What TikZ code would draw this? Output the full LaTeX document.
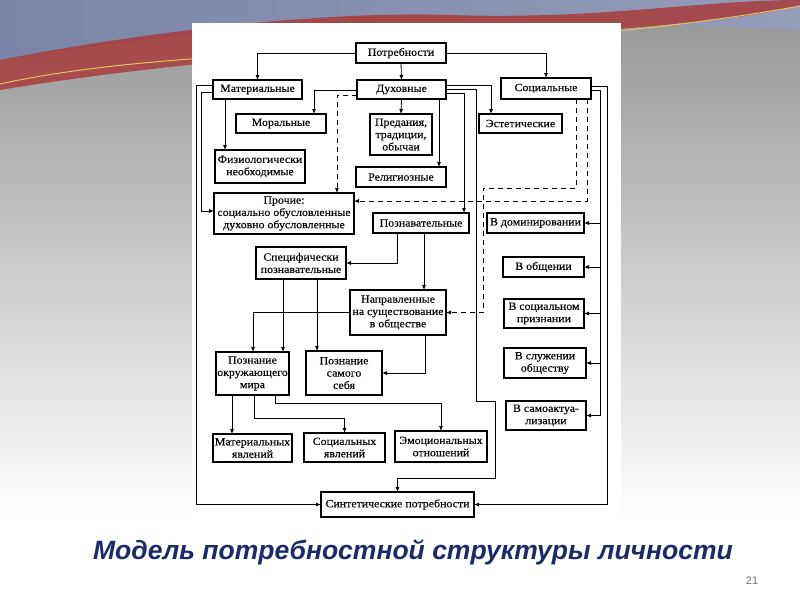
\documentclass[tikz,border=0pt]{standalone}
\usepackage{fontspec}
\setmainfont{Liberation Serif}[FakeStretch=1.08,FakeBold=0.12]
\newfontfamily\titlefont{Liberation Sans}
\usetikzlibrary{arrows.meta,calc}
\definecolor{navy}{HTML}{1C2A6B}
\definecolor{wred}{HTML}{A83C3C}
\definecolor{wblue}{HTML}{7A84A8}
\definecolor{wgold}{HTML}{E8C060}
\tikzset{
 bx/.style={draw, line width=1.3pt, inner sep=0pt, outer sep=0pt, align=center, font=\fontsize{11}{12.3}\selectfont},
 arr/.style={-{Latex[length=5pt,width=4pt]}, line width=0.8pt},
 darr/.style={arr, dash pattern=on 5pt off 4pt},
 ln/.style={line width=0.8pt}
}
\newcommand\mybox[6]{\node[bx, minimum width={#4pt-#2pt}, minimum height={#5pt-#3pt}] (#1) at ({(#2+#4)/2},{(#3+#5)/2}) {#6};}
\begin{document}
\begin{tikzpicture}[x=1pt,y=-1pt]
\useasboundingbox (0,0) rectangle (800,600);
% background
\shade[top color=black!42, bottom color=white] (0,0) rectangle (800,520);
\fill[white] (0,519.5) rectangle (800,600);
\shade[left color=wblue, right color=wblue!80!white] (0,0) -- (800,0) -- (800,30) .. controls (600,20) and (300,10) .. (0,60) -- cycle;
\fill[wred, opacity=0.85] (0,60) .. controls (100,40) and (300,10) .. (450,15) .. controls (600,20) and (700,0) .. (800,0) -- (800,5) .. controls (700,35) and (300,40) .. (0,90) -- cycle;
\draw[wgold, line width=1pt] (0,84) .. controls (200,40) and (500,60) .. (800,6);
% page
\fill[white] (192,23) rectangle (621,525);
% nodes
\mybox{potr}{356}{43}{446}{63}{Потребности}
\mybox{mat}{213}{80}{302}{99}{Материальные}
\mybox{duh}{357}{80}{446}{99}{Духовные}
\mybox{soc}{501}{78}{591}{99}{Социальные}
\mybox{moral}{236}{114}{326}{133}{Моральные}
\mybox{pred}{370}{114}{432}{155}{Предания,\\традиции,\\обычаи}
\mybox{est}{479}{114}{562}{133}{Эстетические}
\mybox{fiz}{215}{150}{305}{183}{Физиологически\\необходимые}
\mybox{relig}{356}{167}{446}{187}{Религиозные}
\mybox{proch}{214}{193}{354}{234}{Прочие:\\социально обусловленные\\духовно обусловленные}
\mybox{pozn}{373}{213}{469}{233}{Познавательные}
\mybox{dom}{487}{213}{584}{233}{В доминировании}
\mybox{spec}{256}{247}{346}{279}{Специфически\\познавательные}
\mybox{obsh}{503}{257}{584}{277}{В общении}
\mybox{napr}{350}{290}{446}{335}{Направленные\\на существование\\в обществе}
\mybox{prizn}{504}{299}{584}{328}{В социальном\\признании}
\mybox{okr}{216}{352}{289}{395}{Познание\\окружающего\\мира}
\mybox{sam}{306}{351}{382}{395}{Познание\\самого\\себя}
\mybox{sluzh}{504}{348}{586}{378}{В служении\\обществу}
\mybox{samo}{506}{401}{586}{430}{В самоактуа-\\лизации}
\mybox{matj}{213}{434}{292}{462}{Материальных\\явлений}
\mybox{socj}{304}{433}{385}{462}{Социальных\\явлений}
\mybox{emo}{395}{431}{487}{462}{Эмоциональных\\отношений}
\mybox{sint}{321}{492}{474}{517}{Синтетические потребности}
% connectors
\draw[arr] (potr.west) -| (mat.north);
\draw[arr] (potr.south) -- (duh.north);
\draw[arr] (potr.east) -| (soc.north);
\draw[arr] (duh.west |- 0,90) -| (moral.north -| 314,0);
\draw[arr] (duh.south) -- (pred.north);
\draw[arr] (duh.south -| 439,0) -- (relig.north -| 439,0);
\draw[darr] (duh.west |- 0,95) -| (proch.north -| 337,0);
\draw[arr] (duh.east |- 0,85) -| (est.north -| 491,0);
\draw[arr] (duh.east |- 0,93) -| (pozn.north -| 464,0);
\draw[arr] (duh.east |- 0,89) -| (476,401) -| (495,478) -| (sint.north);
\draw[arr] (mat.south -| 225,0) -- (fiz.north -| 225,0);
\draw[arr] (mat.west |- 0,85) -- (196,85) |- (sint.west);
\draw[arr] (mat.west |- 0,92) -- (201,92) |- (proch.west |- 0,211);
\draw[arr] (soc.east |- 0,86) -- (607,86) |- (sint.east);
\draw[arr] (soc.east |- 0,90) -- (600,90) |- (samo.east);
\draw[arr] (600,0 |- dom.east) -- (dom.east);
\draw[arr] (600,0 |- obsh.east) -- (obsh.east);
\draw[arr] (600,0 |- prizn.east) -- (prizn.east);
\draw[arr] (600,0 |- sluzh.east) -- (sluzh.east);
\draw[darr] (soc.south -| 576,0) |- (483,188) |- (napr.east);
\draw[darr] (soc.south -| 587,0) |- (proch.east |- 0,201);
\draw[arr] (pozn.south -| 397,0) |- (spec.east);
\draw[arr] (pozn.south -| 424,0) -- (napr.north -| 424,0);
\draw[arr] (napr.south -| 425,0) |- (sam.east);
\draw[arr] (napr.west) -| (okr.north -| 253,0);
\draw[arr] (spec.south -| 283,0) -- (okr.north -| 283,0);
\draw[arr] (spec.south -| 317,0) -- (sam.north -| 317,0);
\draw[arr] (okr.south -| 232,0) -- (matj.north -| 232,0);
\draw[arr] (okr.south -| 254,0) |- (socj.north |- 0,418) -- (socj.north);
\draw[arr] (okr.south -| 275,0) |- (emo.north |- 0,403) -- (emo.north);
% title
\node[font=\titlefont\fontsize{26.5}{30}\selectfont\bfseries\itshape, text=navy] (title) at (413,552) {Модель потребностной структуры личности};
\node[font=\titlefont\fontsize{11}{13}\selectfont, text=black!55] (num) at (752,581) {21};
\end{tikzpicture}
\end{document}
